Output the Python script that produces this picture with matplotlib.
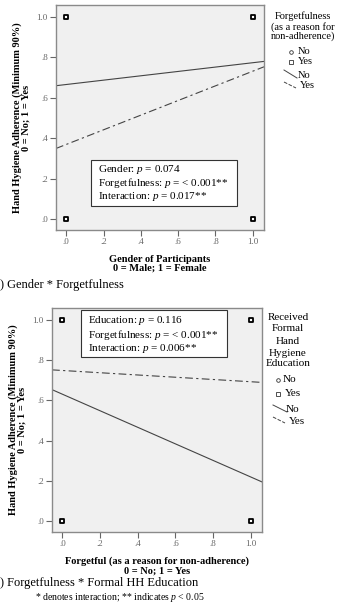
import matplotlib
matplotlib.use("Agg")
import matplotlib.pyplot as plt
from matplotlib.lines import Line2D
from matplotlib.patches import Rectangle

plt.rcParams['font.family'] = ['Liberation Serif', 'DejaVu Serif']
plt.rcParams['mathtext.fontset'] = 'custom'
plt.rcParams['mathtext.it'] = 'Liberation Serif:italic'
plt.rcParams['mathtext.rm'] = 'Liberation Serif'

# observed points (0/1 outcome at each 0/1 predictor)
pts_x = [0, 0, 1, 1]
pts_y = [0, 1, 0, 1]

# fitted lines: value at x=0 and x=1
a_no = [0.666, 0.774]
a_yes = [0.369, 0.732]
b_no = [0.631, 0.219]
b_yes = [0.749, 0.693]

ticks = [0, 0.2, 0.4, 0.6, 0.8, 1.0]
tick_labels = ['.0', '.2', '.4', '.6', '.8', '1.0']

a_stats = ["Gender: $p$ = 0.074", "Forgetfulness: $p$ = < 0.001**", "Interaction: $p$ = 0.017**"]
b_stats = ["Education: $p$ = 0.116", "Forgetfulness: $p$ = < 0.001**", "Interaction: $p$ = 0.006**"]

W, H = 337, 604
fig = plt.figure(figsize=(W / 100, H / 100), dpi=100)

line_col = '#444444'
frame_col = '#8a8a8a'


def px(x, y):
    return x / W, 1 - y / H


def panel(rect, no, yes, xlabel):
    ax = fig.add_axes(rect)
    ax.set_facecolor('#f0f0f0')
    ax.set_xlim(-0.055, 1.06)
    ax.set_ylim(-0.055, 1.06)
    for s in ax.spines.values():
        s.set_color(frame_col)
        s.set_linewidth(1.0)
    ax.axline((0, no[0]), (1, no[1]), color=line_col, lw=0.8)
    ax.axline((0, yes[0]), (1, yes[1]), color=line_col, lw=0.8, dashes=(7, 3, 2, 3))
    ax.scatter(pts_x, pts_y, marker='o', s=5, facecolor='white', edgecolor='black', lw=0.6, zorder=3)
    ax.scatter(pts_x, pts_y, marker='s', s=10, facecolor='white', edgecolor='black', lw=1.3, zorder=4)
    ax.set_xticks(ticks)
    ax.set_xticklabels(tick_labels)
    ax.set_yticks(ticks)
    ax.set_yticklabels(tick_labels)
    ax.tick_params(colors='#666666', labelsize=6.5, length=4, width=0.8, pad=2)
    ax.set_xlabel(xlabel, fontsize=7.5, fontweight='bold', linespacing=1.0, labelpad=6)
    ax.set_ylabel("Hand Hygiene Adherence (Minimum 90%)\n0 = No; 1 = Yes",
                  fontsize=7.5, fontweight='bold', linespacing=1.05, labelpad=4)
    return ax


def stats_box(ax, box, tx, ty, lines):
    ax.add_patch(Rectangle((box[0], box[1]), box[2], box[3], transform=ax.transAxes,
                           facecolor='white', edgecolor='#333333', lw=0.8, zorder=5))
    ax.text(tx, ty, "\n".join(lines), transform=ax.transAxes, fontsize=8, va='center',
            ha='left', linespacing=1.05, zorder=6)


def legend(title_x, title_ys, title_lines, size, entries):
    for y, s in zip(title_ys, title_lines):
        fig.text(*px(title_x, y), s, ha='center', va='center', fontsize=size)
    for kind, mx, my, tx, label in entries:
        if kind in ('o', 's'):
            fig.add_artist(Line2D([mx / W], [1 - my / H], marker=kind, markersize=2.6,
                                  mfc='white', mec='#333333', mew=0.6, ls='none'))
        else:
            x0, y0, x1, y1 = mx
            fig.add_artist(Line2D([x0 / W, x1 / W], [1 - y0 / H, 1 - y1 / H], color=line_col,
                                  lw=0.7, ls=kind))
        fig.text(*px(tx, my if kind in ('o', 's') else (mx[1] + mx[3]) / 2 + 1), label,
                 ha='left', va='center', fontsize=size)


ax1 = panel([56 / W, 1 - 230 / H, 208 / W, 225 / H], a_no, a_yes,
            "Gender of Participants\n0 = Male; 1 = Female")
stats_box(ax1, (0.168, 0.107, 0.702, 0.204), 0.202, 0.209, a_stats)

ax2 = panel([52 / W, 1 - 532 / H, 210 / W, 224 / H], b_no, b_yes,
            "Forgetful (as a reason for non-adherence)\n0 = No; 1 = Yes")
stats_box(ax2, (0.138, 0.781, 0.695, 0.21), 0.171, 0.881, b_stats)

legend(303, [16, 27, 36], ["Forgetfulness", "(as a reason for", "non-adherence)"], 7.5,
       [('o', 291, 52, 298, "No"),
        ('s', 291, 62, 298, "Yes"),
        ('-', (284, 70, 297, 78), None, 298, "No"),
        ('--', (284, 82, 296, 88), None, 300, "Yes")])

legend(288, [317, 329, 341, 353, 364], ["Received", "Formal", "Hand", "Hygiene", "Education"], 8,
       [('o', 278, 380, 283, "No"),
        ('s', 278, 394, 285, "Yes"),
        ('-', (273, 405, 287, 412), None, 286, "No"),
        ('--', (273, 417, 285, 423), None, 289, "Yes")])

fig.text(*px(0, 285), ") Gender * Forgetfulness", fontsize=9, ha='left', va='center')
fig.text(*px(0, 583), ") Forgetfulness * Formal HH Education", fontsize=9, ha='left', va='center')
fig.text(*px(35, 597), "* denotes interaction; ** indicates $p$ < 0.05", fontsize=7, ha='left', va='center')

fig.savefig("out.png", dpi=100, facecolor='white')
